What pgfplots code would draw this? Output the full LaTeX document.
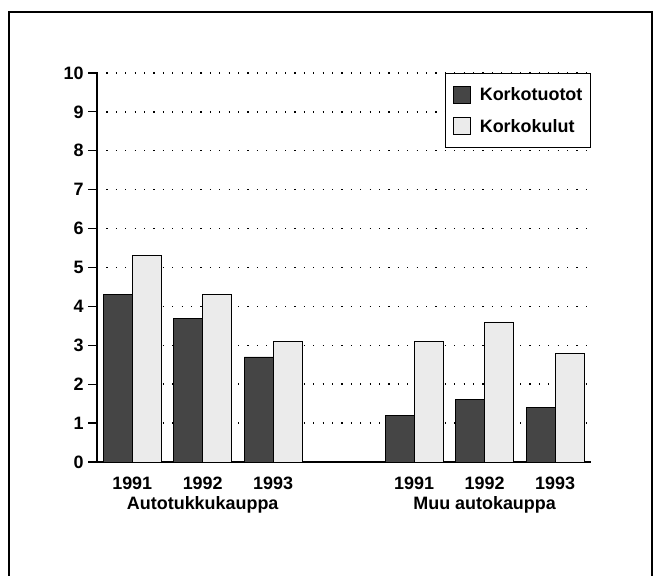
\documentclass[border=0pt]{standalone}
\usepackage{fontspec}
\setmainfont{Liberation Sans}
\usepackage{pgfplots}
\pgfplotsset{compat=1.18}
\definecolor{darkbar}{gray}{0.27}
\definecolor{lightbar}{gray}{0.92}
\begin{document}
\begin{tikzpicture}[x=1bp,y=1bp]
\path (0,0) rectangle (662,576);
\draw[line width=1.3bp] (9,0) -- (9,564) -- (652,564) -- (652,0);
\begin{axis}[
  at={(97bp,114bp)}, anchor=south west,
  scale only axis, width=494bp, height=389bp,
  xmin=-0.5, xmax=6.51, ymin=0, ymax=10,
  axis lines=left, axis line style={-, line width=1.2bp},
  ybar=0pt, bar width=28.9bp,
  ytick={0,1,...,10},
  xtick={0,1,2,4,5,6},
  xticklabels={1991,1992,1993,1991,1992,1993},
  xtick style={draw=none},
  ytick style={line width=1.2bp, black},
  tick align=outside, major tick length=9bp,
  ymajorgrids, grid style={line width=1.4bp, black, dash pattern=on 1.2bp off 8.2bp},
  /pgf/number format/assume math mode=true,
  ticklabel style={font=\fontsize{18}{20}\selectfont\bfseries},
  yticklabel style={xshift=-1bp},
  xticklabel style={yshift=-2bp},
  clip=false,
  legend style={at={(rel axis cs:1,1)}, anchor=north east, draw=black, line width=1.2bp,
    font=\fontsize{18}{20}\selectfont\bfseries, inner xsep=6bp, inner ysep=12bp,
    row sep=13bp, cells={anchor=west}, fill=white},
  legend image code/.code={\path[draw=none,fill=none] (-2bp,0) -- (24bp,0);\draw[#1, line width=0.8bp] (0bp,-8bp) rectangle (17bp,9bp);},
]
\addplot[fill=darkbar, draw=black, line width=0.9bp] coordinates {(0,4.3) (1,3.7) (2,2.7) (4,1.2) (5,1.6) (6,1.4)};
\addplot[fill=lightbar, draw=black, line width=0.9bp] coordinates {(0,5.3) (1,4.3) (2,3.1) (4,3.1) (5,3.6) (6,2.8)};
\legend{Korkotuotot, Korkokulut}
\node[font=\fontsize{18}{20}\selectfont\bfseries] at (axis cs:1,-1.11) {Autotukkukauppa};
\node[font=\fontsize{18}{20}\selectfont\bfseries] at (axis cs:5,-1.11) {Muu autokauppa};
\end{axis}
\end{tikzpicture}
\end{document}
